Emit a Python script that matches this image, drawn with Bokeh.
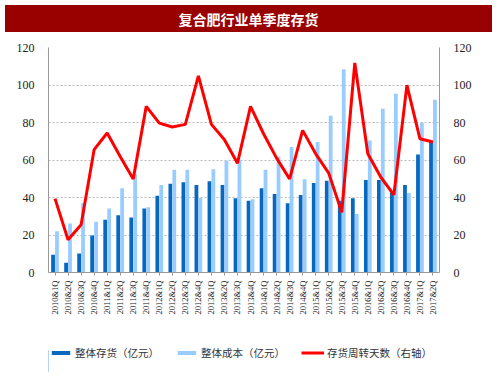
from bokeh.plotting import figure
from bokeh.models import (FactorRange, Range1d, LinearAxis, Legend, LegendItem,
                          ColumnDataSource, FixedTicker, Div)
from bokeh.layouts import column
from bokeh.transform import dodge
from bokeh.embed import file_html
from bokeh.resources import INLINE
from math import pi

quarters = ["2010&1Q", "2010&2Q", "2010&3Q", "2010&4Q",
            "2011&1Q", "2011&2Q", "2011&3Q", "2011&4Q",
            "2012&1Q", "2012&2Q", "2012&3Q", "2012&4Q",
            "2013&1Q", "2013&2Q", "2013&3Q", "2013&4Q",
            "2014&1Q", "2014&2Q", "2014&3Q", "2014&4Q",
            "2015&1Q", "2015&2Q", "2015&3Q", "2015&4Q",
            "2016&1Q", "2016&2Q", "2016&3Q", "2016&4Q",
            "2017&1Q", "2017&2Q"]
inventory = [9.5, 5.2, 10.2, 19.8, 28.2, 30.5, 29.4, 34.1, 41.0, 47.4, 48.2, 46.7,
             48.7, 46.7, 39.6, 38.3, 45.0, 41.9, 36.9, 41.4, 47.8, 49.0, 38.3, 39.6,
             49.4, 49.4, 42.8, 46.7, 63.0, 69.6]
cost = [22.0, 26.2, 37.1, 27.1, 34.1, 45.0, 52.6, 34.8, 46.7, 54.8, 54.8, 39.8,
        55.1, 59.6, 60.1, 39.1, 54.8, 61.9, 66.9, 49.8, 69.6, 83.6, 108.4, 31.2,
        70.4, 87.4, 95.4, 42.4, 79.9, 92.2]
turnover_days = [39.4, 17.5, 25.5, 65.5, 74.4, 61.9, 49.9, 88.6, 79.7, 77.6, 79.0, 104.9,
                 79.0, 70.8, 58.3, 88.6, 74.0, 61.0, 49.9, 75.8, 63.3, 53.0, 32.1, 111.8,
                 63.3, 50.8, 41.4, 99.9, 71.3, 69.6]
y_ticks = [0, 20, 40, 60, 80, 100, 120]
title_text = "复合肥行业单季度存货"
legend_labels = ["整体存货（亿元）", "整体成本（亿元）", "存货周转天数（右轴）"]

src = ColumnDataSource(dict(q=quarters, inv=inventory, cost=cost, days=turnover_days))

CJK = "Noto Sans CJK SC"
SERIF = "Liberation Serif"
C_INV, C_COST, C_DAYS = "#0868C0", "#99CCFF", "#FF0000"

W, H = 487, 362
TB = 27          # title bar height
LH = 45          # legend strip height
MH = H - TB - LH

title = Div(text='<span style="font-family:\'%s\';font-size:14px;font-weight:bold;'
                 'color:white;">%s</span>' % (CJK, title_text),
            width=W, height=TB,
            styles={"background-color": "#990000", "color": "white", "text-align": "center",
                    "line-height": "%dpx" % (TB + 2)})

p = figure(width=W, height=MH, x_range=FactorRange(*quarters, range_padding=0.0),
           y_range=Range1d(0, 120), output_backend="svg", toolbar_location=None,
           min_border_left=48, min_border_right=48, min_border_top=10, min_border_bottom=MH - 235,
           background_fill_color="white", border_fill_color="white", outline_line_color=None)
p.extra_y_ranges = {"right": Range1d(0, 120)}

p.vbar(x=dodge("q", -0.15, range=p.x_range), top="inv", width=0.29, source=src,
       fill_color=C_INV, line_color=None)
p.vbar(x=dodge("q", 0.15, range=p.x_range), top="cost", width=0.29, source=src,
       fill_color=C_COST, line_color=None)
p.line(x="q", y="days", source=src, y_range_name="right", line_color=C_DAYS, line_width=3)

p.yaxis.ticker = FixedTicker(ticks=y_ticks)
raxis = LinearAxis(y_range_name="right", ticker=FixedTicker(ticks=y_ticks))
p.add_layout(raxis, "right")
for ax in [p.yaxis[0], raxis]:
    ax.major_label_text_font = SERIF
    ax.major_label_text_font_size = "12px"
    ax.major_label_text_color = "#222222"
    ax.axis_line_color = "#999999"
    ax.major_tick_line_color = None
    ax.minor_tick_line_color = None
    ax.major_label_standoff = 8

xa = p.xaxis[0]
xa.major_label_orientation = pi / 2
xa.major_label_text_font = SERIF
xa.major_label_text_font_size = "8.5px"
xa.major_label_text_color = "#222222"
xa.axis_line_color = "#999999"
xa.major_tick_line_color = "#999999"
xa.major_tick_in = 0
xa.major_tick_out = 3
xa.major_label_standoff = 5

p.xgrid.grid_line_color = None
p.ygrid.grid_line_color = "#BBBBBB"
p.ygrid.grid_line_dash = "2 2"
p.ygrid.grid_line_width = 1

# legend strip (its own small figure, with off-screen look-alike renderers)
lg = figure(width=W, height=LH, x_range=Range1d(0, 1), y_range=Range1d(0, 1),
            output_backend="svg", toolbar_location=None, x_axis_type=None, y_axis_type=None,
            min_border_left=0, min_border_right=0, min_border_top=0, min_border_bottom=0,
            outline_line_color=None, background_fill_color="white", border_fill_color="white")
lg.xgrid.visible = False
lg.ygrid.visible = False
e1 = lg.vbar(x=[-5], top=[0.5], width=0.1, fill_color=C_INV, line_color=None)
e2 = lg.vbar(x=[-5], top=[0.5], width=0.1, fill_color=C_COST, line_color=None)
e3 = lg.line(x=[-6, -5], y=[0.5, 0.5], line_color=C_DAYS, line_width=3)
legend = Legend(items=[LegendItem(label=legend_labels[0], renderers=[e1]),
                       LegendItem(label=legend_labels[1], renderers=[e2]),
                       LegendItem(label=legend_labels[2], renderers=[e3])],
                orientation="horizontal", label_text_font=CJK,
                label_text_font_size="10.5px", label_text_color="#333333",
                glyph_width=23, glyph_height=5, spacing=16, padding=0, margin=0,
                border_line_color=None, background_fill_alpha=0,
                label_standoff=3, location=(1, 12))
lg.add_layout(legend, "center")

layout = column(title, p, lg, spacing=0)
open("out.html", "w").write(file_html(layout, INLINE))
